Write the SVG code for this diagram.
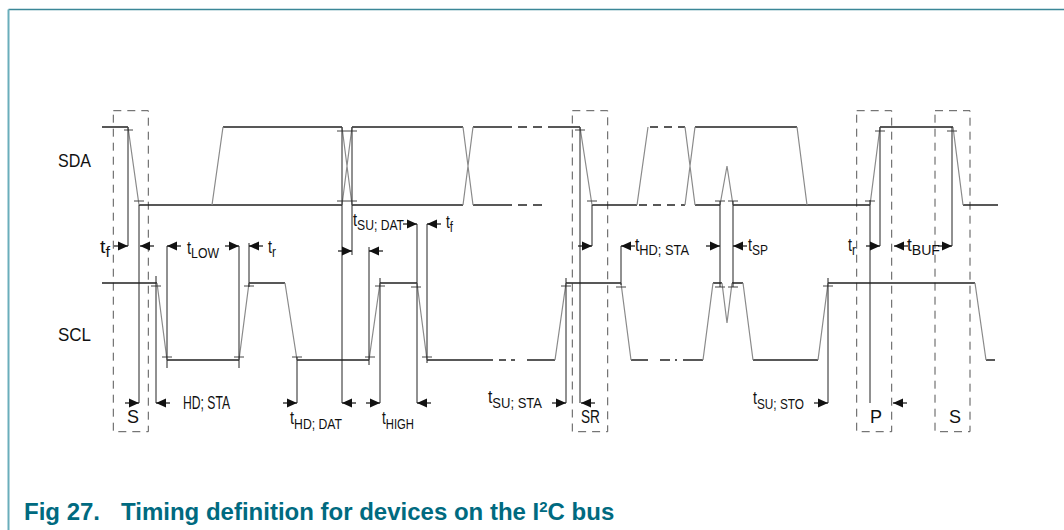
<svg xmlns="http://www.w3.org/2000/svg" xmlns:xlink="http://www.w3.org/1999/xlink" width="1064" height="530" viewBox="0 0 1064 530">
<style>
.sig{fill:none;stroke:#222;stroke-width:1.3}
.edge{fill:none;stroke:#8a8a8a;stroke-width:1.2}
.dsh{fill:none;stroke:#222;stroke-width:1.3;stroke-dasharray:8,6}
.box{fill:none;stroke:#555;stroke-width:1;stroke-dasharray:8,6}
.vl{fill:none;stroke:#222;stroke-width:1}
.tk{fill:none;stroke:#444;stroke-width:1}
.lb{font-family:"Liberation Sans Narrow","Liberation Sans",Arial,sans-serif;fill:#111;font-size:18px}
.sb{font-size:15px}
.cap{font-family:"Liberation Sans",Arial,sans-serif;font-weight:bold;fill:#006a80;font-size:24px}
</style>
<defs>
<g id="ar"><path d="M-14,0H0" stroke="#111" stroke-width="1.2"/><path d="M0,0L-10,-4.5L-10,4.5Z" fill="#111"/></g>
</defs>
<rect width="1064" height="530" fill="#fff"/>
<g id="frame">
<path d="M8.5,9.5H1064" stroke="#3b8797" stroke-width="1.5" fill="none"/>
<path d="M8.5,9.5V530" stroke="#6aaebb" stroke-width="2" fill="none"/>
</g>
<g id="boxes">
<rect class="box" x="113.3" y="110.7" width="35" height="321"/>
<rect class="box" x="572.3" y="110.7" width="35.4" height="321"/>
<rect class="box" x="856.7" y="110.7" width="35" height="321"/>
<rect class="box" x="935" y="110.7" width="35" height="321"/>
</g>
<g id="sda">
<path class="sig" d="M102,127H128M139,205H342M223,127H342M352,127H463M352,205H463M473,127H512M473,205H512M548,127H580M592,205H637M695,127H797M695,205H720M733,205H870M880,127H953M963,205H998"/>
<path class="sig" d="M518,127H527M533,127H542M518,205H527M533,205H542"/>
<path class="dsh" d="M650,127H685M639,205H685"/>
<path class="edge" d="M128,127L139,205M212,205L223,127M342,127L352,205M342,205L352,127M463,127L473,205M463,205L473,127M580,127L592,205M637,205L648,127M685,127L695,205M685,205L695,127M797,127L807,205M720,205L727,166L733,205M870,205L880,127M953,127L963,205"/>
<path class="tk" d="M124,130H133M134,201H144M337,131H347M347,131H357M337,201H347M347,201H357M575,130H585M587,201H597M715,201H725M728,201H738M865,201H875M875,131H885M947,131H957"/>
</g>
<g id="scl">
<path class="sig" d="M102,283H157M167,360H239M249,283H285M297,360H369M380,283H417M427,360H493M527,360H555M566,283H621M631,360H648M683,360H703M713,283H722M732,283H743M753,360H818M828,283H975M986,360H995"/>
<path class="sig" d="M499,360H506M511,360H515M660,360H670M675,360H677"/>
<path class="edge" d="M157,283L167,360M239,360L249,283M285,283L297,360M369,360L380,283M417,283L427,360M555,360L566,283M621,283L631,360M703,360L713,283M722,283L727,323L732,283M743,283L753,360M818,360L828,283M975,283L986,360"/>
<path class="tk" d="M151,286H161M162,357H172M234,357H244M244,286H254M292,357H302M365,357H375M375,286H385M411,287H421M422,357H432M561,286H571M616,287H626M715,287H725M728,287H738M823,286H833"/>
</g>
<g id="connectors">
<path class="vl" d="M128,127V246M139,205V403M156,276V403M167,246V368M239,246V368M249,243V287M297,357V403M342,127V403M352,127V255M369,247V365M380,278V403M417,224V403M427,224V363M566,278V403M580,127V403M592,205V246M621,246V285M720,201V287M733,201V287M828,278V403M870,200V403M880,127V246M952,127V246"/>
<use xlink:href="#ar" transform="translate(128,246)"/>
<use xlink:href="#ar" transform="translate(140,246) scale(-1,1)"/>
<use xlink:href="#ar" transform="translate(167,246) scale(-1,1)"/>
<use xlink:href="#ar" transform="translate(239,246)"/>
<use xlink:href="#ar" transform="translate(249,246) scale(-1,1)"/>
<use xlink:href="#ar" transform="translate(592,246)"/>
<use xlink:href="#ar" transform="translate(621,246) scale(-1,1)"/>
<use xlink:href="#ar" transform="translate(720,246)"/>
<use xlink:href="#ar" transform="translate(733,246) scale(-1,1)"/>
<use xlink:href="#ar" transform="translate(880,246)"/>
<use xlink:href="#ar" transform="translate(894,246) scale(-1,1)"/>
<use xlink:href="#ar" transform="translate(952,246)"/>
<use xlink:href="#ar" transform="translate(352,251)"/>
<use xlink:href="#ar" transform="translate(369,251) scale(-1,1)"/>
<use xlink:href="#ar" transform="translate(417,224)"/>
<use xlink:href="#ar" transform="translate(427,224) scale(-1,1)"/>
<use xlink:href="#ar" transform="translate(139,403)"/>
<use xlink:href="#ar" transform="translate(156,403) scale(-1,1)"/>
<use xlink:href="#ar" transform="translate(297,403)"/>
<use xlink:href="#ar" transform="translate(342,403) scale(-1,1)"/>
<use xlink:href="#ar" transform="translate(380,403)"/>
<use xlink:href="#ar" transform="translate(417,403) scale(-1,1)"/>
<use xlink:href="#ar" transform="translate(566,403)"/>
<use xlink:href="#ar" transform="translate(581,403) scale(-1,1)"/>
<use xlink:href="#ar" transform="translate(828,403)"/>
<use xlink:href="#ar" transform="translate(893,403) scale(-1,1)"/>
</g>
<g id="labels">
<text class="lb" x="58" y="167" font-size="20" textLength="33" lengthAdjust="spacingAndGlyphs">SDA</text>
<text class="lb" x="58" y="341" font-size="20" textLength="33" lengthAdjust="spacingAndGlyphs">SCL</text>
<text class="lb" x="100" y="253" textLength="10" lengthAdjust="spacingAndGlyphs">t<tspan class="sb" dy="4">f</tspan></text>
<text class="lb" x="187" y="254" textLength="32" lengthAdjust="spacingAndGlyphs">t<tspan class="sb" dy="4">LOW</tspan></text>
<text class="lb" x="268" y="253" textLength="8" lengthAdjust="spacingAndGlyphs">t<tspan class="sb" dy="4">r</tspan></text>
<text class="lb" x="353" y="226" textLength="51" lengthAdjust="spacingAndGlyphs">t<tspan class="sb" dy="4">SU; DAT</tspan></text>
<text class="lb" x="446" y="228" textLength="7" lengthAdjust="spacingAndGlyphs">t<tspan class="sb" dy="4">f</tspan></text>
<text class="lb" x="183" y="409" font-size="16" textLength="47" lengthAdjust="spacingAndGlyphs">HD; STA</text>
<text class="lb" x="127" y="423">S</text>
<text class="lb" x="290" y="424" textLength="52" lengthAdjust="spacingAndGlyphs">t<tspan class="sb" dy="5">HD; DAT</tspan></text>
<text class="lb" x="382" y="424" textLength="32" lengthAdjust="spacingAndGlyphs">t<tspan class="sb" dy="5">HIGH</tspan></text>
<text class="lb" x="488" y="403" textLength="54" lengthAdjust="spacingAndGlyphs">t<tspan class="sb" dy="5">SU; STA</tspan></text>
<text class="lb" x="581" y="423" textLength="19" lengthAdjust="spacingAndGlyphs">SR</text>
<text class="lb" x="635" y="251" textLength="54" lengthAdjust="spacingAndGlyphs">t<tspan class="sb" dy="4">HD; STA</tspan></text>
<text class="lb" x="748" y="251" textLength="20" lengthAdjust="spacingAndGlyphs">t<tspan class="sb" dy="4">SP</tspan></text>
<text class="lb" x="848" y="251" textLength="8" lengthAdjust="spacingAndGlyphs">t<tspan class="sb" dy="4">r</tspan></text>
<text class="lb" x="907" y="251" textLength="33" lengthAdjust="spacingAndGlyphs">t<tspan class="sb" dy="4">BUF</tspan></text>
<text class="lb" x="753" y="404" textLength="51" lengthAdjust="spacingAndGlyphs">t<tspan class="sb" dy="5">SU; STO</tspan></text>
<text class="lb" x="870" y="423">P</text>
<text class="lb" x="949" y="423">S</text>
</g>
<g id="caption">
<text class="cap" x="24" y="520">Fig 27.<tspan x="121">Timing definition for devices on the I</tspan><tspan dy="-8" font-size="15">2</tspan><tspan dy="8">C bus</tspan></text>
</g>
</svg>
